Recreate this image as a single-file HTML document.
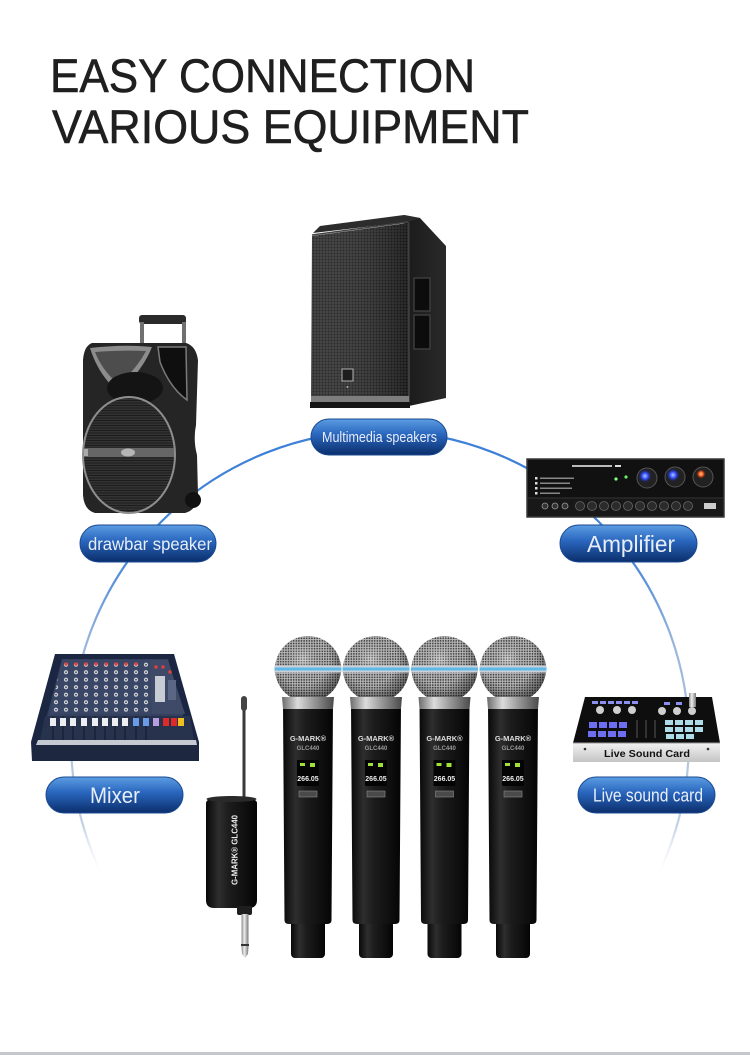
<!DOCTYPE html>
<html><head><meta charset="utf-8">
<style>
html,body{margin:0;padding:0;background:#fff;}
body{width:750px;height:1055px;overflow:hidden;}
svg{display:block;}
text{font-family:"Liberation Sans",sans-serif;}
</style></head><body>
<svg width="750" height="1055" viewBox="0 0 750 1055" xmlns="http://www.w3.org/2000/svg">
<defs>
 <linearGradient id="pill" x1="0" y1="0" x2="0" y2="1">
  <stop offset="0" stop-color="#5c9de2"/>
  <stop offset="0.42" stop-color="#2a67bf"/>
  <stop offset="1" stop-color="#0b2e6b"/>
 </linearGradient>
 <linearGradient id="arc" x1="0" y1="431" x2="0" y2="880" gradientUnits="userSpaceOnUse">
  <stop offset="0" stop-color="#3b7fd8"/>
  <stop offset="0.29" stop-color="#4a88d8"/>
  <stop offset="0.47" stop-color="#98b6dc"/>
  <stop offset="0.88" stop-color="#c2d1e4"/>
  <stop offset="1" stop-color="#ffffff" stop-opacity="0"/>
 </linearGradient>
 <pattern id="grill" width="3" height="3" patternUnits="userSpaceOnUse">
  <rect width="3" height="3" fill="#363636"/>
  <circle cx="1.5" cy="1.5" r="0.95" fill="#171717"/>
 </pattern>
 <pattern id="grill2" width="2.5" height="2.5" patternUnits="userSpaceOnUse">
  <rect width="2.5" height="2.5" fill="#333"/>
  <rect width="2.5" height="1" fill="#1c1c1c"/>
 </pattern>
 <linearGradient id="shadeLR" x1="0" y1="0" x2="1" y2="0">
  <stop offset="0" stop-color="#fff" stop-opacity="0.07"/>
  <stop offset="1" stop-color="#000" stop-opacity="0.25"/>
 </linearGradient>
 <linearGradient id="sideG" x1="0" y1="0" x2="1" y2="0">
  <stop offset="0" stop-color="#1a1a1a"/>
  <stop offset="1" stop-color="#2a2a2a"/>
 </linearGradient>
 <pattern id="mesh" width="2.6" height="2.6" patternUnits="userSpaceOnUse">
  <rect width="2.6" height="2.6" fill="#c6c6c6"/>
  <circle cx="1.3" cy="1.3" r="0.85" fill="#3a3a3a"/>
 </pattern>
 <radialGradient id="headShade" cx="0.42" cy="0.35" r="0.65">
  <stop offset="0" stop-color="#fff" stop-opacity="0.3"/>
  <stop offset="0.6" stop-color="#000" stop-opacity="0.05"/>
  <stop offset="1" stop-color="#000" stop-opacity="0.5"/>
 </radialGradient>
 <linearGradient id="bodyG" x1="0" y1="0" x2="1" y2="0">
  <stop offset="0" stop-color="#080808"/>
  <stop offset="0.25" stop-color="#2e2e2e"/>
  <stop offset="0.45" stop-color="#1c1c1c"/>
  <stop offset="0.8" stop-color="#0e0e0e"/>
  <stop offset="1" stop-color="#040404"/>
 </linearGradient>
 <linearGradient id="collarG" x1="0" y1="0" x2="1" y2="0">
  <stop offset="0" stop-color="#6a6a6a"/>
  <stop offset="0.3" stop-color="#dcdcdc"/>
  <stop offset="0.6" stop-color="#9a9a9a"/>
  <stop offset="1" stop-color="#4a4a4a"/>
 </linearGradient>
 <linearGradient id="silverV" x1="0" y1="0" x2="0" y2="1">
  <stop offset="0" stop-color="#f2f2f2"/>
  <stop offset="1" stop-color="#c4c4c4"/>
 </linearGradient>
 <linearGradient id="silverH" x1="0" y1="0" x2="1" y2="0">
  <stop offset="0" stop-color="#888"/>
  <stop offset="0.4" stop-color="#eee"/>
  <stop offset="1" stop-color="#777"/>
 </linearGradient>
 <radialGradient id="blueGlow">
  <stop offset="0" stop-color="#b8c4ff"/>
  <stop offset="0.45" stop-color="#2f4dff"/>
  <stop offset="1" stop-color="#1a1a40" stop-opacity="0"/>
 </radialGradient>
 <radialGradient id="orangeGlow">
  <stop offset="0" stop-color="#ffd0a0"/>
  <stop offset="0.45" stop-color="#ff5a1a"/>
  <stop offset="1" stop-color="#401a1a" stop-opacity="0"/>
 </radialGradient>
 <pattern id="knobs" width="10" height="7.5" patternUnits="userSpaceOnUse" x="61" y="661">
  <rect width="10" height="7.5" fill="#3a4666"/>
  <circle cx="5" cy="3.7" r="2.1" fill="#cfd3db"/>
  <circle cx="5" cy="3.7" r="0.8" fill="#333"/>
 </pattern>
 <g id="mic">
  <rect x="-17" y="912" width="34" height="46" rx="4" fill="url(#bodyG)"/>
  <path d="M-25,704 L25,704 L23.5,920 Q23.5,924 19,924 L-19,924 Q-23.5,924 -23.5,920 Z" fill="url(#bodyG)"/>
  <circle cx="0" cy="669" r="33" fill="url(#mesh)"/>
  <circle cx="0" cy="669" r="33" fill="url(#headShade)"/>
  <rect x="-33.5" y="665.5" width="67" height="7" fill="#c9d1d9"/>
  <rect x="-33.5" y="667.5" width="67" height="3" fill="#5fb8e6"/>
  <path d="M-26,697 L26,697 L25,709 L-25,709 Z" fill="url(#collarG)"/>
  <rect x="-11" y="760" width="22" height="26" rx="1" fill="#040404"/>
  <rect x="-8" y="763" width="5" height="3" fill="#9fe03a"/>
  <rect x="2" y="763" width="5" height="4" fill="#9fe03a"/>
  <rect x="-9" y="791" width="18" height="6" fill="#4a4a4a" stroke="#8a8a8a" stroke-width="0.6"/>
 </g>
</defs>

<rect width="750" height="1055" fill="#ffffff"/>

<!-- Title -->
<g fill="#1f1f1f" stroke="#1f1f1f" stroke-width="0.6">
<text x="50" y="92" font-size="47.5" textLength="425" lengthAdjust="spacingAndGlyphs">EASY CONNECTION</text>
<text x="52" y="143" font-size="47.5" textLength="477" lengthAdjust="spacingAndGlyphs">VARIOUS EQUIPMENT</text>
</g>

<!-- Connecting arc -->
<circle cx="380" cy="740" r="309" fill="none" stroke="url(#arc)" stroke-width="2.2"/>

<!-- Top PA speaker -->
<g>
 <polygon points="404,215 420,218 446,246 446,398 409,406" fill="url(#sideG)"/>
 <polygon points="313,233 320,226 404,215 420,218 408,222" fill="#2c2c2c"/>
 <polygon points="312,236 408,223 409,404 311,404" fill="url(#grill)"/>
 <polygon points="312,236 408,223 409,404 311,404" fill="url(#shadeLR)"/>
 <line x1="312" y1="235" x2="408" y2="222" stroke="#444" stroke-width="1.5"/>
 <line x1="408.5" y1="222" x2="409" y2="404" stroke="#3e3e3e" stroke-width="2"/>
 <rect x="311" y="396" width="98" height="6" fill="#7e7e7e"/>
 <rect x="310" y="402" width="100" height="6" fill="#151515"/>
 <rect x="414" y="278" width="16" height="33" fill="#0c0c0c" stroke="#3c3c3c" stroke-width="1.5"/>
 <rect x="414" y="315" width="16" height="34" fill="#0c0c0c" stroke="#3c3c3c" stroke-width="1.5"/>
 <rect x="342" y="369" width="11" height="12" fill="#1e1e1e" stroke="#b0b0b0" stroke-width="1"/>
 <circle cx="347.5" cy="387" r="1" fill="#aaa"/>
</g>

<!-- Drawbar speaker -->
<g>
 <rect x="139" y="315" width="47" height="9" rx="3" fill="#2a2a2a"/>
 <rect x="140" y="322" width="4" height="24" fill="#707070"/>
 <rect x="182" y="322" width="4" height="24" fill="#707070"/>
 <path d="M92,343 L186,343 Q196,346 198,360 L196,425 Q193,440 197,455 L198,495 Q197,510 185,513 L95,513 Q84,510 83,495 L83,360 Q84,346 92,343 Z" fill="#252525"/>
 <path d="M90,348 Q125,344 152,347 Q142,372 118,392 Q98,374 90,348 Z" fill="#8c8c8c"/>
 <path d="M95,352 Q125,350 146,351 Q136,370 118,384 Q102,370 95,352 Z" fill="#4d4d4d"/>
 <path d="M158,347 L186,347 L187,400 Q170,388 160,362 Z" fill="#0f0f0f" stroke="#7a7a7a" stroke-width="1.5"/>
 <ellipse cx="135" cy="388" rx="28" ry="16" fill="#141414"/>
 <ellipse cx="129" cy="455" rx="46" ry="58" fill="url(#grill2)" stroke="#8e8e8e" stroke-width="2"/>
 <rect x="84" y="448" width="90" height="9" fill="#666"/>
 <ellipse cx="128" cy="452.5" rx="7" ry="4" fill="#b5b5b5"/>
 <rect x="84" y="449" width="4" height="7" fill="#aaa"/>
 <circle cx="193" cy="500" r="8" fill="#111"/>
</g>

<!-- Amplifier -->
<g>
 <rect x="527" y="459" width="197" height="58" fill="#111" stroke="#3a3a3a" stroke-width="1.5"/>
 <rect x="528" y="498" width="195" height="18" fill="#181818"/>
 <line x1="528" y1="498" x2="723" y2="498" stroke="#333" stroke-width="1"/>
 <rect x="572" y="465" width="40" height="2" fill="#bbb"/>
 <rect x="615" y="465" width="6" height="2" fill="#ddd"/>
 <rect x="535" y="477" width="2.5" height="2.5" fill="#ddd"/><rect x="540" y="477.5" width="34" height="1.5" fill="#888"/>
 <rect x="535" y="482" width="2.5" height="2.5" fill="#ddd"/><rect x="540" y="482.5" width="30" height="1.5" fill="#888"/>
 <rect x="535" y="487" width="2.5" height="2.5" fill="#ddd"/><rect x="540" y="487.5" width="32" height="1.5" fill="#888"/>
 <rect x="535" y="492" width="2.5" height="2.5" fill="#ddd"/><rect x="540" y="492.5" width="20" height="1.5" fill="#888"/>
 <circle cx="616" cy="479" r="1.6" fill="#8f8"/>
 <circle cx="626" cy="477" r="1.6" fill="#6e6"/>
 <circle cx="647" cy="478" r="10" fill="#222" stroke="#555" stroke-width="1"/>
 <circle cx="645" cy="476" r="7" fill="url(#blueGlow)"/>
 <circle cx="675" cy="477" r="10" fill="#222" stroke="#555" stroke-width="1"/>
 <circle cx="673" cy="475" r="7" fill="url(#blueGlow)"/>
 <circle cx="703" cy="477" r="10" fill="#222" stroke="#555" stroke-width="1"/>
 <circle cx="701" cy="474" r="5" fill="url(#orangeGlow)"/>
 <circle cx="545" cy="506" r="3" fill="#333" stroke="#999" stroke-width="0.8"/>
 <circle cx="555" cy="506" r="3" fill="#333" stroke="#999" stroke-width="0.8"/>
 <circle cx="565" cy="506" r="3" fill="#333" stroke="#999" stroke-width="0.8"/>
 <g fill="#2b2b2b" stroke="#666" stroke-width="0.8">
  <circle cx="580" cy="506" r="4.5"/><circle cx="592" cy="506" r="4.5"/><circle cx="604" cy="506" r="4.5"/>
  <circle cx="616" cy="506" r="4.5"/><circle cx="628" cy="506" r="4.5"/><circle cx="640" cy="506" r="4.5"/>
  <circle cx="652" cy="506" r="4.5"/><circle cx="664" cy="506" r="4.5"/><circle cx="676" cy="506" r="4.5"/>
  <circle cx="688" cy="506" r="4.5"/>
 </g>
 <rect x="704" y="503" width="12" height="6" fill="#ccc"/>
</g>

<!-- Mixer -->
<g>
 <polygon points="55,654 174,654 199,742 199,761 32,761 31,742" fill="#1b2642"/>
 <polygon points="62,659 168,659 190,742 40,742" fill="#34405e"/>
 <polygon points="62,660 150,660 152,714 50,714" fill="url(#knobs)"/>
 <polygon points="150,660 168,660 185,714 152,714" fill="#3e4a68"/>
 <g fill="#e04040">
  <circle cx="66" cy="664" r="1.7"/><circle cx="76" cy="664" r="1.7"/><circle cx="86" cy="664" r="1.7"/>
  <circle cx="96" cy="664" r="1.7"/><circle cx="106" cy="664" r="1.7"/><circle cx="116" cy="664" r="1.7"/>
  <circle cx="126" cy="664" r="1.7"/><circle cx="136" cy="664" r="1.7"/><circle cx="156" cy="667" r="1.7"/>
  <circle cx="163" cy="667" r="1.7"/><circle cx="170" cy="672" r="1.7"/>
 </g>
 <rect x="155" y="676" width="10" height="26" fill="#c8ccd4"/>
 <rect x="168" y="680" width="8" height="20" fill="#5a6684"/>
 <polygon points="45,716 190,716 194,740 40,740" fill="#27324d"/>
 <g fill="#11182a">
  <rect x="52.5" y="716" width="1" height="24"/><rect x="62.5" y="716" width="1" height="24"/><rect x="72.5" y="716" width="1" height="24"/>
  <rect x="83.5" y="716" width="1" height="24"/><rect x="94.5" y="716" width="1" height="24"/><rect x="104.5" y="716" width="1" height="24"/>
  <rect x="114.5" y="716" width="1" height="24"/><rect x="124.5" y="716" width="1" height="24"/><rect x="135.5" y="716" width="1" height="24"/>
  <rect x="145.5" y="716" width="1" height="24"/>
 </g>
 <g fill="#eceef2">
  <rect x="50" y="718" width="6" height="8"/><rect x="60" y="718" width="6" height="8"/><rect x="70" y="718" width="6" height="8"/>
  <rect x="81" y="718" width="6" height="8"/><rect x="92" y="718" width="6" height="8"/><rect x="102" y="718" width="6" height="8"/>
  <rect x="112" y="718" width="6" height="8"/><rect x="122" y="718" width="6" height="8"/>
 </g>
 <rect x="133" y="718" width="6" height="8" fill="#6a9be8"/>
 <rect x="143" y="718" width="6" height="8" fill="#6a9be8"/>
 <rect x="153" y="718" width="6" height="8" fill="#b89ee0"/>
 <rect x="163" y="718" width="6" height="8" fill="#e02a2a"/>
 <rect x="171" y="718" width="6" height="8" fill="#e02a2a"/>
 <rect x="178" y="718" width="6" height="8" fill="#f0c020"/>
 <polygon points="38,740 196,740 197,745 36,745" fill="#c5c9d2"/>
 <polygon points="36,745 197,745 198,759 33,759" fill="#1d2840"/>
</g>

<!-- Live sound card -->
<g>
 <polygon points="585,697 712,697 720,743 573,743" fill="#0e0e0e"/>
 <polygon points="573,743 720,743 720,762 573,762" fill="url(#silverV)"/>
 <line x1="573" y1="743" x2="720" y2="743" stroke="#999" stroke-width="1"/>
 <text x="647" y="757" font-size="10" font-weight="bold" fill="#111" text-anchor="middle" textLength="86" lengthAdjust="spacingAndGlyphs">Live Sound Card</text>
 <circle cx="585" cy="749" r="1.3" fill="#333"/>
 <circle cx="708" cy="749" r="1.3" fill="#333"/>
 <g fill="#8a8ff0">
  <rect x="592" y="701" width="6" height="3"/><rect x="600" y="701" width="6" height="3"/><rect x="608" y="701" width="6" height="3"/>
  <rect x="616" y="701" width="6" height="3"/><rect x="624" y="701" width="6" height="3"/><rect x="632" y="701" width="6" height="3"/>
  <rect x="664" y="702" width="6" height="3"/><rect x="676" y="702" width="6" height="3"/>
 </g>
 <g fill="#cfcfcf">
  <circle cx="600" cy="710" r="4"/><circle cx="617" cy="710" r="4"/><circle cx="632" cy="710" r="4"/>
  <circle cx="662" cy="711" r="4"/><circle cx="677" cy="711" r="4"/><circle cx="692" cy="711" r="4"/>
 </g>
 <rect x="689" y="693" width="7" height="14" fill="url(#silverH)"/>
 <g fill="#6d6ff0">
  <rect x="589" y="722" width="8" height="6"/><rect x="599" y="722" width="8" height="6"/><rect x="609" y="722" width="8" height="6"/><rect x="619" y="722" width="8" height="6"/>
  <rect x="588" y="731" width="8" height="6"/><rect x="598" y="731" width="8" height="6"/><rect x="608" y="731" width="8" height="6"/><rect x="618" y="731" width="8" height="6"/>
 </g>
 <g fill="#333">
  <rect x="636" y="720" width="2" height="18"/><rect x="645" y="720" width="2" height="18"/><rect x="654" y="720" width="2" height="18"/>
 </g>
 <g fill="#aedbe8">
  <rect x="665" y="720" width="8" height="5"/><rect x="675" y="720" width="8" height="5"/><rect x="685" y="720" width="8" height="5"/><rect x="695" y="720" width="8" height="5"/>
  <rect x="665" y="727" width="8" height="5"/><rect x="675" y="727" width="8" height="5"/><rect x="685" y="727" width="8" height="5"/><rect x="695" y="727" width="8" height="5"/>
  <rect x="666" y="734" width="8" height="5"/><rect x="676" y="734" width="8" height="5"/><rect x="686" y="734" width="8" height="5"/>
 </g>
</g>

<!-- Receiver -->
<g>
 <rect x="242.5" y="702" width="3" height="96" fill="#3a3a3a"/>
 <rect x="241" y="696" width="6" height="15" rx="3" fill="#444"/>
 <path d="M206,803 Q206,797 231,796 Q257,797 257,803 L257,900 Q257,908 249,908 L214,908 Q206,908 206,900 Z" fill="url(#bodyG)"/>
 <ellipse cx="231.5" cy="799" rx="25" ry="3" fill="#2a2a2a"/>
 <rect x="237" y="906" width="15" height="9" rx="2" fill="#1e1e1e"/>
 <rect x="241.5" y="914" width="7" height="34" fill="url(#silverH)"/>
 <rect x="241" y="944" width="8" height="2" fill="#333"/>
 <path d="M241.5,947 L248.5,947 L248,954 L245,958 L242,954 Z" fill="url(#silverH)"/>
 <text transform="translate(237.5,885) rotate(-90)" font-size="8.5" font-weight="bold" fill="#eeeeee" textLength="70" lengthAdjust="spacingAndGlyphs">G-MARK® GLC440</text>
</g>

<!-- Microphones -->
<use href="#mic" x="308"/>
<use href="#mic" x="376"/>
<use href="#mic" x="444.5"/>
<use href="#mic" x="513"/>
<g font-weight="bold" text-anchor="middle">
 <text x="308" y="741" font-size="7.5" fill="#dddddd">G-MARK®</text>
 <text x="308" y="750" font-size="6" fill="#9a9a9a">GLC440</text>
 <text x="308" y="781" font-size="7" fill="#eeeeee">266.05</text>
 <text x="376" y="741" font-size="7.5" fill="#dddddd">G-MARK®</text>
 <text x="376" y="750" font-size="6" fill="#9a9a9a">GLC440</text>
 <text x="376" y="781" font-size="7" fill="#eeeeee">266.05</text>
 <text x="444.5" y="741" font-size="7.5" fill="#dddddd">G-MARK®</text>
 <text x="444.5" y="750" font-size="6" fill="#9a9a9a">GLC440</text>
 <text x="444.5" y="781" font-size="7" fill="#eeeeee">266.05</text>
 <text x="513" y="741" font-size="7.5" fill="#dddddd">G-MARK®</text>
 <text x="513" y="750" font-size="6" fill="#9a9a9a">GLC440</text>
 <text x="513" y="781" font-size="7" fill="#eeeeee">266.05</text>
</g>

<!-- Pills -->
<g stroke="#1a4a92" stroke-width="1">
 <rect x="311" y="419" width="136" height="36" rx="18" fill="url(#pill)"/>
 <rect x="80" y="525" width="136" height="37" rx="18.5" fill="url(#pill)"/>
 <rect x="560" y="525" width="137" height="37" rx="18.5" fill="url(#pill)"/>
 <rect x="46" y="777" width="137" height="36" rx="18" fill="url(#pill)"/>
 <rect x="578" y="777" width="137" height="36" rx="18" fill="url(#pill)"/>
</g>
<g fill="#e8eef8" text-anchor="middle">
 <text x="379.5" y="442" font-size="14.5" textLength="115" lengthAdjust="spacingAndGlyphs">Multimedia speakers</text>
 <text x="150" y="550" font-size="17.5" textLength="124" lengthAdjust="spacingAndGlyphs">drawbar speaker</text>
 <text x="631" y="552" font-size="23" textLength="88" lengthAdjust="spacingAndGlyphs">Amplifier</text>
 <text x="115" y="803" font-size="22.5" textLength="50" lengthAdjust="spacingAndGlyphs">Mixer</text>
 <text x="648" y="801.5" font-size="18.5" textLength="110" lengthAdjust="spacingAndGlyphs">Live sound card</text>
</g>

<!-- bottom line -->
<rect x="0" y="1052" width="750" height="3" fill="#c4c8cc"/>
</svg>
</body></html>
